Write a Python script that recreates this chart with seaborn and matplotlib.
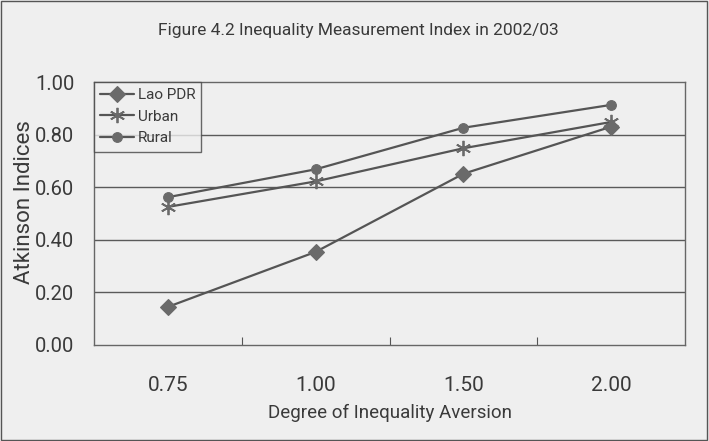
import matplotlib
matplotlib.use("Agg")
import matplotlib.pyplot as plt
from matplotlib.patches import Rectangle
import seaborn as sns
import pandas as pd

# Inequality aversion parameters (shown as categories) and Atkinson indices
aversion = ["0.75", "1.00", "1.50", "2.00"]
lao_pdr = [0.145, 0.354, 0.651, 0.830]
urban = [0.525, 0.622, 0.748, 0.848]
rural = [0.562, 0.668, 0.826, 0.913]
series_names = ["Lao PDR", "Urban", "Rural"]
y_ticks = [0.0, 0.2, 0.4, 0.6, 0.8, 1.0]

df = pd.DataFrame({
    "aversion": aversion * 3,
    "index": lao_pdr + urban + rural,
    "area": [n for n in series_names for _ in aversion],
})

sns.set_theme(style="white")
plt.rcParams["font.family"] = ["Roboto", "DejaVu Sans"]

bg = "#efefef"
ink = "#3a3a3a"
line_col = "#555555"
mark_col = "#6a6a6a"

fig = plt.figure(figsize=(7.09, 4.41), dpi=100, facecolor=bg)
ax = fig.add_axes([94 / 709, 1 - 345 / 441, 591 / 709, 263 / 441])
ax.set_facecolor(bg)

markers = {"Lao PDR": "D", "Urban": (6, 2, 0), "Rural": "o"}
sizes = {"Lao PDR": 8, "Urban": 11, "Rural": 7}
for name in series_names:
    sub = df[df["area"] == name]
    sns.lineplot(data=sub, x="aversion", y="index", ax=ax, color=line_col,
                 linewidth=1.6, marker=markers[name], markersize=sizes[name],
                 markerfacecolor=mark_col, markeredgecolor=mark_col,
                 markeredgewidth=1.3 if name == "Urban" else 0.8,
                 label=name, sort=False)

ax.set_xlim(-0.5, len(aversion) - 0.5)
ax.set_ylim(0, 1.0)
ax.set_yticks(y_ticks)
ax.set_yticklabels([f"{v:.2f}" for v in y_ticks])
for v in y_ticks[1:-1]:
    ax.axhline(v, color="#5a5a5a", linewidth=1.0, zorder=0)

# Category boundaries get small inward tick marks
ax.set_xticks([i + 0.5 for i in range(len(aversion) - 1)], minor=True)
ax.tick_params(axis="x", which="minor", direction="in", length=6, width=0.8,
               color="#555555", bottom=True)
ax.tick_params(axis="x", which="major", length=0, pad=22, labelsize=15,
               labelcolor=ink)
ax.tick_params(axis="y", which="major", length=0, pad=14, labelsize=14.5,
               labelcolor=ink)

for side in ax.spines.values():
    side.set_color("#666666")
    side.set_linewidth(1.0)

ax.set_xlabel("Degree of Inequality Aversion", fontsize=13.5, color=ink,
              labelpad=7)
ax.set_ylabel("Atkinson Indices", fontsize=16, color=ink)
ax.yaxis.set_label_coords(-0.1, 0.545)

leg = ax.legend(loc="upper left", bbox_to_anchor=(0, 1), borderaxespad=0,
                frameon=True, fancybox=False, fontsize=11, handlelength=2.2,
                handletextpad=0.25, labelspacing=0.5, borderpad=0.4,
                labelcolor=ink)
leg.get_frame().set_edgecolor("#444444")
leg.get_frame().set_facecolor(bg)
leg.get_frame().set_linewidth(1.0)

fig.text(0.505, 1 - 31 / 441, "Figure 4.2 Inequality Measurement Index in 2002/03",
         ha="center", va="center", fontsize=12.5, color=ink)

# Thin frame around the whole chart
fig.patches.append(Rectangle((0.002, 0.003), 0.995, 0.994,
                             transform=fig.transFigure, fill=False,
                             edgecolor="#555555", linewidth=1.0))

fig.savefig("out.png", dpi=100, facecolor=bg)
